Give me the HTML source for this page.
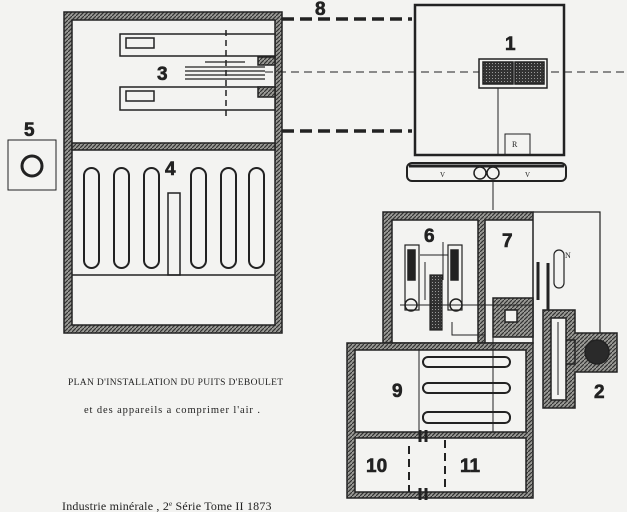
<!DOCTYPE html>
<html><head><meta charset="utf-8"><style>
html,body{margin:0;padding:0;background:#f3f3f1;}
svg{display:block}
text{font-family:"Liberation Sans",sans-serif;}
.n{font-weight:900;font-size:19px;fill:#222;stroke:#222;stroke-width:0.6}
.s{font-family:"Liberation Serif",serif;fill:#222}
</style></head><body>
<svg width="627" height="512" viewBox="0 0 627 512" xmlns="http://www.w3.org/2000/svg">
<defs>
<pattern id="h" width="4" height="4" patternUnits="userSpaceOnUse">
<rect width="4" height="4" fill="#9a9a96"/><path d="M0 4L4 0" stroke="#333" stroke-width="1.2"/>
</pattern>
<pattern id="d" width="3" height="3" patternUnits="userSpaceOnUse">
<rect width="3" height="3" fill="#333"/><rect width="1" height="1" fill="#999"/>
</pattern>
</defs>
<rect width="627" height="512" fill="#f3f3f1"/>
<g stroke="#222" fill="none" stroke-width="1.5">
<path fill-rule="evenodd" fill="url(#h)" d="M64 12H282V333H64Z M72 20H275V325H72Z"/>
<rect x="72" y="143" width="203" height="7" fill="url(#h)"/>
<rect x="120" y="34" width="155" height="22" fill="#f3f3f1"/>
<rect x="120" y="87" width="155" height="23" fill="#f3f3f1"/>
<rect x="126" y="38" width="28" height="10"/><rect x="126" y="91" width="28" height="10"/>
<rect x="258" y="57" width="17" height="8" fill="url(#h)"/>
<rect x="258" y="87" width="17" height="10" fill="url(#h)"/>
<path d="M185 67H265M185 71H265M185 75H265M185 79H265M205 62H245" stroke-width="1.3"/>
<path d="M226 30V118" stroke-dasharray="6 4"/>
<path d="M265 72H627" stroke-width="1" stroke-dasharray="8 5"/>
<g stroke-width="2">
<rect x="84" y="168" width="15" height="100" rx="7.5"/>
<rect x="114" y="168" width="15" height="100" rx="7.5"/>
<rect x="144" y="168" width="15" height="100" rx="7.5"/>
<rect x="191" y="168" width="15" height="100" rx="7.5"/>
<rect x="221" y="168" width="15" height="100" rx="7.5"/>
<rect x="249" y="168" width="15" height="100" rx="7.5"/>
</g>
<rect x="168" y="193" width="12" height="82"/>
<path d="M72 275H275"/>
<rect x="8" y="140" width="48" height="50" stroke-width="1"/>
<circle cx="32" cy="166" r="10" stroke-width="3"/>
<path d="M282 19H412M282 131H412" stroke-width="3.5" stroke-dasharray="12 6"/>
<rect x="415" y="5" width="149" height="150" stroke-width="2.5"/>
<rect x="479" y="59" width="68" height="29" fill="#f3f3f1"/>
<rect x="483" y="62" width="30" height="22" fill="url(#d)"/>
<rect x="515" y="62" width="29" height="22" fill="url(#d)"/>
<rect x="505" y="134" width="25" height="21" stroke-width="1"/>
<path d="M498 88V155M493 181V210" stroke-width="1"/>
<rect x="407" y="163" width="159" height="18" rx="5" stroke-width="2"/>
<path d="M409 166H564" stroke-width="3"/>
<circle cx="480" cy="173" r="6"/><circle cx="493" cy="173" r="6"/>
<path fill-rule="evenodd" fill="url(#h)" d="M383 212H533V343H383Z M392 220H478V343H392Z M485 220H533V343H485Z"/>
<path d="M533 212H600V335" stroke-width="1.2"/>
<rect x="493" y="298" width="40" height="39" fill="url(#h)"/>
<rect x="505" y="310" width="12" height="12" fill="#f3f3f1"/>
<rect x="405" y="245" width="14" height="65" stroke-width="1.2"/><rect x="408" y="250" width="7" height="30" fill="#222"/>
<rect x="448" y="245" width="14" height="65" stroke-width="1.2"/><rect x="451" y="250" width="7" height="30" fill="#222"/>
<rect x="430" y="275" width="12" height="55" stroke-width="1.2" fill="url(#d)"/>
<circle cx="411" cy="305" r="6"/><circle cx="456" cy="305" r="6"/>
<path d="M420 255H448M400 305H533M443 242V280M425 262V300M452 322V335H485" stroke-width="1"/>
<path d="M538 262V300M548 263V340" stroke-width="3"/>
<rect x="554" y="250" width="10" height="38" rx="5" stroke-width="1.2"/>
<path fill="url(#h)" fill-rule="evenodd" d="M543 310H575V333H617V372H575V408H543Z M551 318H566V400H551Z"/>
<path d="M566 340H575V364H566"/>
<circle cx="597" cy="352" r="12" fill="#2a2a2a"/>
<path d="M558 322V395" stroke-width="1"/>
<path fill-rule="evenodd" fill="url(#h)" d="M347 343H533V498H347Z M355 350H526V432H355Z M355 438H526V492H355Z"/>
<path d="M419 350V432M493 335V432" stroke-width="1"/>
<g stroke-width="2"><rect x="423" y="357" width="87" height="10" rx="5"/><rect x="423" y="383" width="87" height="10" rx="5"/><rect x="423" y="412" width="87" height="11" rx="5"/></g>
<path d="M409 446V492M445 440V492" stroke-width="2" stroke-dasharray="8 5"/>
<path d="M420 430V442M426 430V442M420 488V500M426 488V500" stroke-width="3"/>
</g>
<text class="n" x="315" y="15">8</text>
<text class="n" x="157" y="80">3</text>
<text class="n" x="165" y="175">4</text>
<text class="n" x="24" y="136">5</text>
<text class="n" x="505" y="50">1</text>
<text class="n" x="424" y="242">6</text>
<text class="n" x="502" y="247">7</text>
<text class="n" x="594" y="398">2</text>
<text class="n" x="392" y="397">9</text>
<text class="n" x="366" y="472">10</text>
<text class="n" x="460" y="472">11</text>
<text class="s" x="512" y="147" font-size="8">R</text>
<text class="s" x="440" y="177" font-size="7">V</text>
<text class="s" x="525" y="177" font-size="7">V</text>
<text class="s" x="565" y="258" font-size="8">N</text>
<text class="s" x="68" y="385" font-size="9.5" letter-spacing="0.35">PLAN D'INSTALLATION DU PUITS D'EBOULET</text>
<text class="s" x="84" y="413" font-size="10.5" letter-spacing="0.9">et des appareils a comprimer l'air .</text>
<text class="s" x="62" y="510" font-size="12" letter-spacing="0.2">Industrie minérale , 2<tspan font-size="7" dy="-4">e</tspan><tspan dy="4"> Série  Tome II 1873</tspan></text>
</svg>
</body></html>
